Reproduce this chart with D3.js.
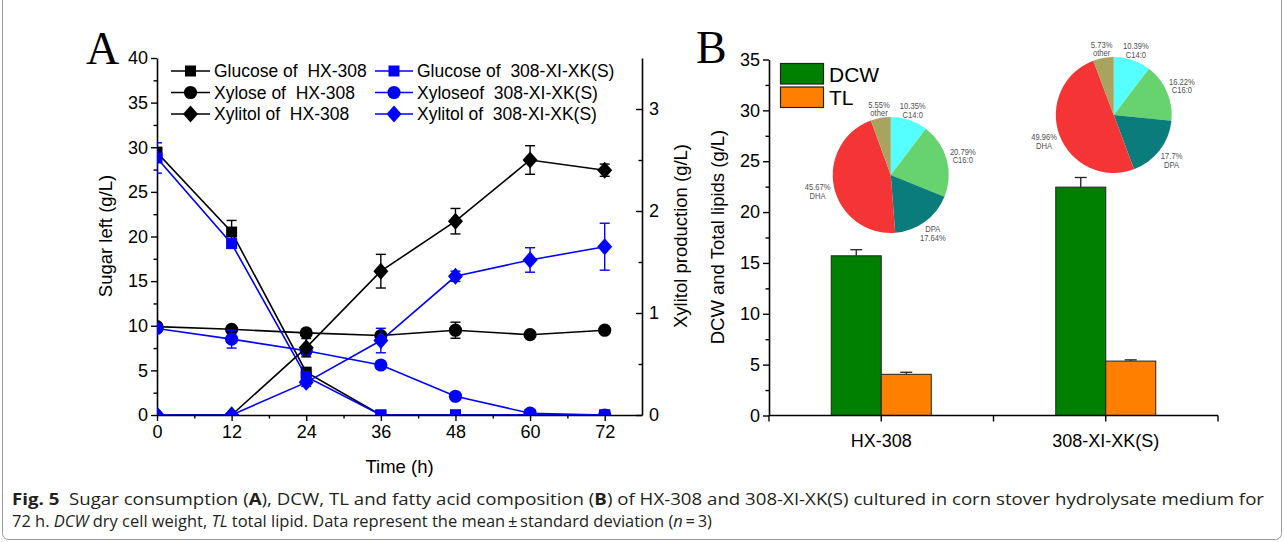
<!DOCTYPE html>
<html><head><meta charset="utf-8">
<script src="https://cdn.jsdelivr.net/npm/d3@7"></script>
<style>body{margin:0;background:#fff;overflow:hidden}</style>
</head><body>
<svg id="c" width="1284" height="542"></svg>
<script>
// ---------------- DATA ----------------
const timePoints = [0, 12, 24, 36, 48, 60, 72];
const glucoseHX    = [29.4, 20.5, 4.8, 0, 0, 0, 0];
const glucoseHXErr = [0.6, 1.3, 0.3, 0, 0, 0, 0];
const glucoseXI    = [28.8, 19.2, 4.3, 0, 0, 0, 0];
const glucoseXIErr = [1.7, 0.5, 0.5, 0, 0, 0, 0];
const xyloseHX     = [9.9, 9.6, 9.2, 8.9, 9.5, 9.0, 9.5];
const xyloseHXErr  = [0.3, 0.3, 0.3, 0.3, 0.9, 0.3, 0.3];
const xyloseXI     = [9.7, 8.5, 7.2, 5.6, 2.1, 0.2, 0];
const xyloseXIErr  = [0.3, 1.0, 0.3, 0.3, 0.3, 0.1, 0];
const xylitolHX    = [0, 0, 0.66, 1.41, 1.90, 2.50, 2.40];
const xylitolHXErr = [0, 0, 0.09, 0.165, 0.125, 0.14, 0.06];
const xylitolXI    = [0, 0, 0.32, 0.73, 1.36, 1.52, 1.65];
const xylitolXIErr = [0, 0, 0.04, 0.12, 0.05, 0.12, 0.23];

const timeTicks = [0, 12, 24, 36, 48, 60, 72];
const timeMinor = [6, 18, 30, 42, 54, 66];
const sugarTicks = [0, 5, 10, 15, 20, 25, 30, 35, 40];
const sugarMinor = [2.5, 7.5, 12.5, 17.5, 22.5, 27.5, 32.5, 37.5];
const xylitolTicks = [0, 1, 2, 3];
const xylitolMinor = [0.5, 1.5, 2.5];

const strains = ["HX-308", "308-XI-XK(S)"];
const bioSeries = ["DCW", "TL"];
const dcw = [15.7, 22.45];
const dcwErr = [0.6, 0.95];
const tl = [4.05, 5.35];
const tlErr = [0.2, 0.12];
const lipidTicks = [0, 5, 10, 15, 20, 25, 30, 35];
const lipidMinor = [2.5, 7.5, 12.5, 17.5, 22.5, 27.5, 32.5];

const fattyAcids = ["C14:0", "C16:0", "DPA", "DHA", "other"];
const faHX = [10.35, 20.79, 17.64, 45.67, 5.55];
const faXI = [10.39, 16.22, 17.7, 49.96, 5.73];
const faHXLabels = ["10.35%", "20.79%", "17.64%", "45.67%", "5.55%"];
const faXILabels = ["10.39%", "16.22%", "17.7%", "49.96%", "5.73%"];

// ---------------- SETUP ----------------
const svg = d3.select("#c");
const FONT = "Liberation Sans, Arial, sans-serif";
const BLUE = "#0000ff";

svg.append("rect").attr("x", 2.5).attr("y", -10).attr("width", 1279).attr("height", 549.5)
  .attr("rx", 6).attr("fill", "none").attr("stroke", "#9a9a9a").attr("stroke-width", 1);

// ---------------- PANEL A ----------------
const xA = d3.scaleLinear().domain([0, 78]).range([157, 642]);
const yA = d3.scaleLinear().domain([0, 40]).range([415, 58]);
const yA2 = d3.scaleLinear().domain([0, 3.5]).range([415, 58]);

function styleAxis(g, fs) {
  g.selectAll("path.domain").attr("stroke", "#000").attr("stroke-width", 1.6);
  g.selectAll(".tick line").attr("stroke", "#000").attr("stroke-width", 1.4);
  g.selectAll(".tick text").attr("fill", "#000").style("font-family", FONT).style("font-size", fs + "px");
}

const gA = svg.append("g");
const axL = gA.append("g").attr("transform", `translate(${xA(0)},0)`)
  .call(d3.axisLeft(yA).tickValues(sugarTicks).tickSize(6).tickSizeOuter(0).tickPadding(3));
styleAxis(axL, 18);
gA.append("g").attr("transform", `translate(${xA(0)},0)`)
  .call(d3.axisLeft(yA).tickValues(sugarMinor).tickSize(3.5).tickFormat("")).call(g => { g.select(".domain").remove(); styleAxis(g, 18); });

const axB = gA.append("g").attr("transform", `translate(0,${yA(0)})`)
  .call(d3.axisBottom(xA).tickValues(timeTicks).tickSize(6).tickSizeOuter(0).tickPadding(4));
styleAxis(axB, 18);
gA.append("g").attr("transform", `translate(0,${yA(0)})`)
  .call(d3.axisBottom(xA).tickValues(timeMinor).tickSize(3.5).tickFormat("")).call(g => { g.select(".domain").remove(); styleAxis(g, 18); });

const axR = gA.append("g").attr("transform", `translate(${xA(78)},0)`)
  .call(d3.axisRight(yA2).tickValues(xylitolTicks).tickFormat(d3.format("d")).tickSizeInner(-6).tickSizeOuter(0).tickPadding(7));
styleAxis(axR, 18);
gA.append("g").attr("transform", `translate(${xA(78)},0)`)
  .call(d3.axisRight(yA2).tickValues(xylitolMinor).tickSizeInner(-3.5).tickSizeOuter(0).tickFormat("")).call(g => { g.select(".domain").remove(); styleAxis(g, 18); });

gA.append("text").attr("transform", `translate(112,236) rotate(-90)`).attr("text-anchor", "middle")
  .style("font-family", FONT).style("font-size", "18.5px").text("Sugar left (g/L)");
gA.append("text").attr("transform", `translate(687,236) rotate(-90)`).attr("text-anchor", "middle")
  .style("font-family", FONT).style("font-size", "18.5px").text("Xylitol production (g/L)");
gA.append("text").attr("x", (xA(0) + xA(78)) / 2).attr("y", 473).attr("text-anchor", "middle")
  .style("font-family", FONT).style("font-size", "18.5px").text("Time (h)");
svg.append("text").attr("x", 86).attr("y", 64).style("font-family", "Liberation Serif, Times New Roman, serif")
  .style("font-size", "46px").text("A");

svg.append("clipPath").attr("id", "clipA").append("rect")
  .attr("x", xA(0)).attr("y", 30).attr("width", xA(78) - xA(0)).attr("height", yA(0) - 30);

function markerPath(shape) {
  if (shape === "square") return "M-5.5,-5.5H5.5V5.5H-5.5Z";
  if (shape === "circle") return d3.symbol(d3.symbolCircle, Math.PI * 6.6 * 6.6)();
  return "M0,-8.5L7.5,0L0,8.5L-7.5,0Z";
}

const seriesA = [
  { name: "Glucose of  HX-308", vals: glucoseHX, err: glucoseHXErr, y: yA, color: "#000", shape: "square" },
  { name: "Xylose of  HX-308", vals: xyloseHX, err: xyloseHXErr, y: yA, color: "#000", shape: "circle" },
  { name: "Glucose of  308-XI-XK(S)", vals: glucoseXI, err: glucoseXIErr, y: yA, color: BLUE, shape: "square" },
  { name: "Xyloseof  308-XI-XK(S)", vals: xyloseXI, err: xyloseXIErr, y: yA, color: BLUE, shape: "circle" },
  { name: "Xylitol of  HX-308", vals: xylitolHX, err: xylitolHXErr, y: yA2, color: "#000", shape: "diamond" },
  { name: "Xylitol of  308-XI-XK(S)", vals: xylitolXI, err: xylitolXIErr, y: yA2, color: BLUE, shape: "diamond" }
];

const plotA = svg.append("g").attr("clip-path", "url(#clipA)");
seriesA.forEach(s => {
  const pts = timePoints.map((t, i) => ({ t, v: s.vals[i], e: s.err[i] }));
  const g = plotA.append("g");
  g.append("path").datum(pts).attr("fill", "none").attr("stroke", s.color).attr("stroke-width", 1.6)
    .attr("d", d3.line().x(d => xA(d.t)).y(d => s.y(d.v)));
  const eb = g.selectAll(".eb").data(pts.filter(d => d.e > 0)).join("g").attr("stroke", s.color).attr("stroke-width", 1.4);
  eb.append("line").attr("x1", d => xA(d.t)).attr("x2", d => xA(d.t)).attr("y1", d => s.y(d.v - d.e)).attr("y2", d => s.y(d.v + d.e));
  eb.append("line").attr("x1", d => xA(d.t) - 5).attr("x2", d => xA(d.t) + 5).attr("y1", d => s.y(d.v + d.e)).attr("y2", d => s.y(d.v + d.e));
  eb.append("line").attr("x1", d => xA(d.t) - 5).attr("x2", d => xA(d.t) + 5).attr("y1", d => s.y(d.v - d.e)).attr("y2", d => s.y(d.v - d.e));
  g.selectAll(".mk").data(pts).join("path").attr("d", markerPath(s.shape))
    .attr("transform", d => `translate(${xA(d.t)},${s.y(d.v)})`).attr("fill", s.color);
});

const legOrder = [[0, 2], [1, 3], [4, 5]];
const legRows = [71, 92.5, 114];
const legCols = [{ x1: 171, x2: 210, tx: 214 }, { x1: 375, x2: 413, tx: 417 }];
legOrder.forEach((row, ri) => {
  row.forEach((si, ci) => {
    const s = seriesA[si], c = legCols[ci], y = legRows[ri];
    gA.append("line").attr("x1", c.x1).attr("x2", c.x2).attr("y1", y).attr("y2", y).attr("stroke", s.color).attr("stroke-width", 1.6);
    gA.append("path").attr("d", markerPath(s.shape)).attr("transform", `translate(${(c.x1 + c.x2) / 2},${y})`).attr("fill", s.color);
    gA.append("text").attr("x", c.tx).attr("y", y + 6.3).style("font-family", FONT).style("font-size", "17.5px")
      .attr("xml:space", "preserve").style("white-space", "pre").text(s.name);
  });
});

// ---------------- PANEL B ----------------
const xB = d3.scaleBand().domain(strains).range([769, 1218]);
const x1B = d3.scaleBand().domain(bioSeries).range([0, xB.bandwidth()]).paddingOuter(1.245);
const yB = d3.scaleLinear().domain([0, 35]).range([415.5, 59.5]);
const barColors = { DCW: "#008000", TL: "#ff8000" };
const bioVals = { DCW: dcw, TL: tl };
const bioErr = { DCW: dcwErr, TL: tlErr };

const gB = svg.append("g");
const axBL = gB.append("g").attr("transform", `translate(${xB.range()[0]},0)`)
  .call(d3.axisLeft(yB).tickValues(lipidTicks).tickSize(6).tickSizeOuter(0).tickPadding(3));
styleAxis(axBL, 18);
gB.append("g").attr("transform", `translate(${xB.range()[0]},0)`)
  .call(d3.axisLeft(yB).tickValues(lipidMinor).tickSize(3.5).tickFormat("")).call(g => { g.select(".domain").remove(); styleAxis(g, 18); });

strains.forEach((st, i) => {
  bioSeries.forEach(se => {
    const x = xB(st) + x1B(se), w = x1B.bandwidth(), v = bioVals[se][i], e = bioErr[se][i];
    gB.append("rect").attr("x", x).attr("y", yB(v)).attr("width", w).attr("height", yB(0) - yB(v))
      .attr("fill", barColors[se]).attr("stroke", "#222").attr("stroke-width", 1);
    const cx = x + w / 2;
    gB.append("line").attr("x1", cx).attr("x2", cx).attr("y1", yB(v)).attr("y2", yB(v + e)).attr("stroke", "#222").attr("stroke-width", 1.3);
    gB.append("line").attr("x1", cx - 6).attr("x2", cx + 6).attr("y1", yB(v + e)).attr("y2", yB(v + e)).attr("stroke", "#222").attr("stroke-width", 1.3);
  });
});

const bx0 = xB.range()[0], bx1 = xB.range()[1];
gB.append("line").attr("x1", bx0).attr("x2", bx1).attr("y1", yB(0)).attr("y2", yB(0)).attr("stroke", "#000").attr("stroke-width", 1.6);
const bTicks = [bx0, ...strains.map(s => xB(s) + xB.bandwidth() / 2), xB(strains[1]), bx1];
bTicks.forEach(x => gB.append("line").attr("x1", x).attr("x2", x).attr("y1", yB(0)).attr("y2", yB(0) + 6).attr("stroke", "#000").attr("stroke-width", 1.4));
strains.forEach(s => gB.append("text").attr("x", xB(s) + xB.bandwidth() / 2).attr("y", 447).attr("text-anchor", "middle")
  .style("font-family", FONT).style("font-size", "18px").text(s));

gB.append("text").attr("transform", `translate(724,237) rotate(-90)`).attr("text-anchor", "middle")
  .style("font-family", FONT).style("font-size", "18.5px").text("DCW and Total lipids (g/L)");
svg.append("text").attr("x", 696).attr("y", 63).style("font-family", "Liberation Serif, Times New Roman, serif")
  .style("font-size", "46px").text("B");

bioSeries.forEach((se, i) => {
  const y = 63.5 + i * 23.5;
  gB.append("rect").attr("x", 780.5).attr("y", y).attr("width", 43).attr("height", 20.5)
    .attr("fill", barColors[se]).attr("stroke", "#222").attr("stroke-width", 1.2);
  gB.append("text").attr("x", 829).attr("y", y + 18).style("font-family", FONT).style("font-size", "21px").text(se);
});
gB.append("text").attr("x", 873).attr("y", 73).style("font-family", FONT).style("font-size", "7px").attr("fill", "#444").text("'");

// pies
const pieColors = ["#55ffff", "#66d36e", "#0b7c7c", "#f53535", "#a8a35e"];
const pieLayout = [
  { vals: faHX, labels: faHXLabels, cx: xB(strains[0]) + xB.bandwidth() / 2 + 9.5, cy: yB(23.65), nameFirst: ["DPA"] },
  { vals: faXI, labels: faXILabels, cx: xB(strains[1]) + xB.bandwidth() / 2 + 8, cy: yB(29.55), nameFirst: [] }
];
const R = 58;
const pie = d3.pie().sort(null);
const arc = d3.arc().innerRadius(0).outerRadius(R);
pieLayout.forEach(p => {
  const g = gB.append("g").attr("transform", `translate(${p.cx},${p.cy})`);
  const arcs = pie(p.vals);
  g.selectAll("path").data(arcs).join("path").attr("d", arc).attr("fill", (d, i) => pieColors[i]);
  arcs.forEach((a, i) => {
    const mid = (a.startAngle + a.endAngle) / 2;
    const lr = 66 + 9 * Math.abs(Math.sin(mid));
    const lx = Math.sin(mid) * lr, ly = -Math.cos(mid) * lr;
    const lines = p.nameFirst.includes(fattyAcids[i]) ? [fattyAcids[i], p.labels[i]] : [p.labels[i], fattyAcids[i]];
    lines.forEach((t, k) => {
      const tx = g.append("text").attr("x", lx).attr("y", ly - 0.6 + k * 8.6).attr("text-anchor", "middle")
        .style("font-family", FONT).style("font-size", "9.5px").attr("fill", "#505050").text(t);
      const len = tx.node().getComputedTextLength();
      tx.attr("textLength", len * 0.8).attr("lengthAdjust", "spacingAndGlyphs");
    });
  });
});

// ---------------- CAPTION ----------------
const cap1 = svg.append("text").attr("x", 12).attr("y", 505).style("font-family", "Open Sans, sans-serif")
  .style("font-size", "15.5px").attr("fill", "#231f20").attr("textLength", 1252).attr("lengthAdjust", "spacingAndGlyphs");
[["Fig. 5", "bold"], ["  Sugar consumption (", ""], ["A", "bold"], "), DCW, TL and fatty acid composition (", ["B", "bold"],
 ") of HX-308 and 308-XI-XK(S) cultured in corn stover hydrolysate medium for"].forEach(p => {
  const [t, w] = Array.isArray(p) ? p : [p, ""];
  cap1.append("tspan").attr("font-weight", w || null).text(t);
});
cap1.attr("xml:space", "preserve").style("white-space", "pre");
const cap2 = svg.append("text").attr("x", 12).attr("y", 527).style("font-family", "Open Sans, sans-serif")
  .style("font-size", "15.5px").attr("fill", "#231f20").attr("textLength", 700).attr("lengthAdjust", "spacingAndGlyphs");
[["72 h. ", ""], ["DCW", "i"], [" dry cell weight, ", ""], ["TL", "i"], [" total lipid. Data represent the mean\u2009\u00b1\u2009standard deviation (", ""], ["n", "i"], ["\u2009=\u20093)", ""]].forEach(([t, s]) => {
  cap2.append("tspan").attr("font-style", s === "i" ? "italic" : null).text(t);
});
</script>
</body></html>
